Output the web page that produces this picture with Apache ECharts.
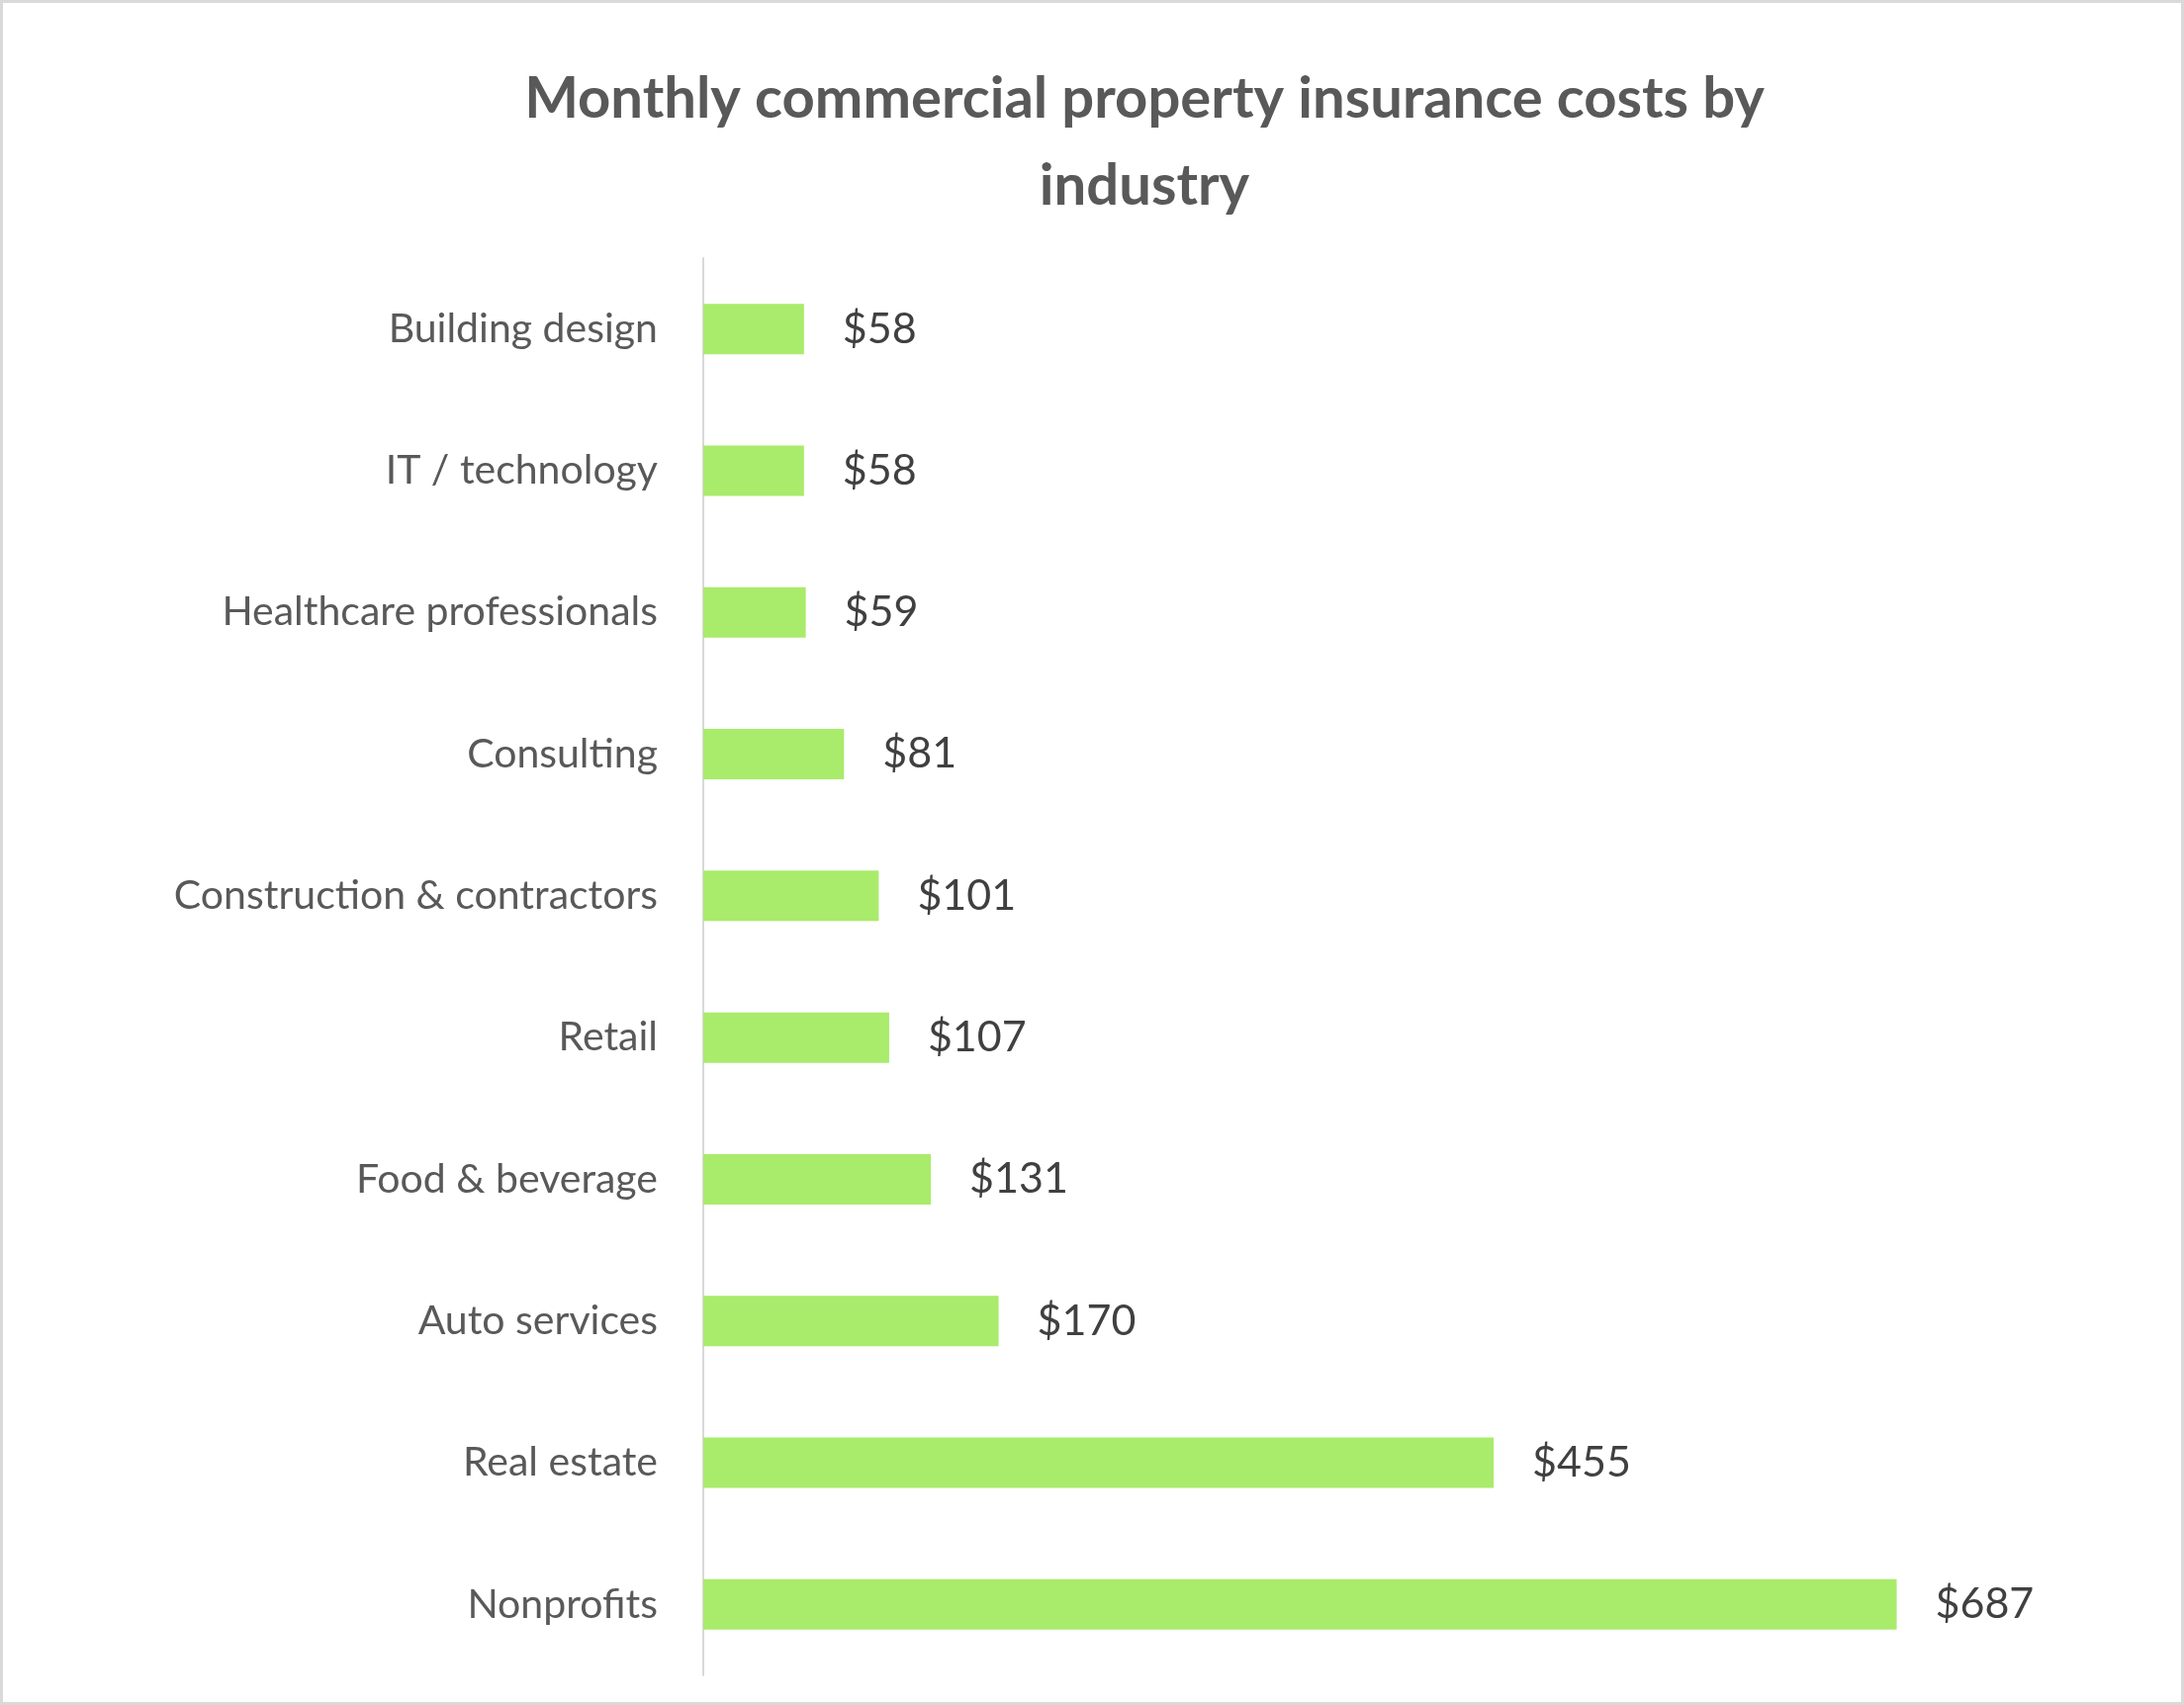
<!DOCTYPE html>
<html><head><meta charset="utf-8">
<script src="https://cdn.jsdelivr.net/npm/echarts@6/dist/echarts.min.js"></script>
<style>html,body{margin:0;padding:0;background:#fff}#c{width:2208px;height:1724px;box-sizing:border-box;border:3px solid #d9d9d9}</style>
</head><body><div id="c"></div>
<script>
const categories = ["Building design","IT / technology","Healthcare professionals","Consulting","Construction & contractors","Retail","Food & beverage","Auto services","Real estate","Nonprofits"];
const values = [58,58,59,81,101,107,131,170,455,687];
const chart = echarts.init(document.getElementById('c'));
chart.setOption({
  animation:false,
  title:{text:"Monthly commercial property insurance costs by\nindustry",left:1149,textAlign:'center',top:48,
    textStyle:{fontFamily:'Lato',fontSize:58,fontWeight:'bold',color:'#595959',lineHeight:88}},
  grid:{left:708,right:89,top:258,bottom:27},
  xAxis:{type:'value',min:0,max:800,show:false},
  yAxis:{type:'category',data:categories,inverse:true,
    axisLine:{lineStyle:{color:'#d9d9d9',width:2}},axisTick:{show:false},
    axisLabel:{fontFamily:'Lato',fontSize:41,color:'#595959',margin:46}},
  series:[{type:'bar',data:values,barWidth:51,itemStyle:{color:'#a9eb6b'},
    label:{show:true,position:'right',distance:39,formatter:p=>'$'+p.value,
      fontFamily:'Lato',fontSize:43,color:'#404040'}}]
});
</script></body></html>
